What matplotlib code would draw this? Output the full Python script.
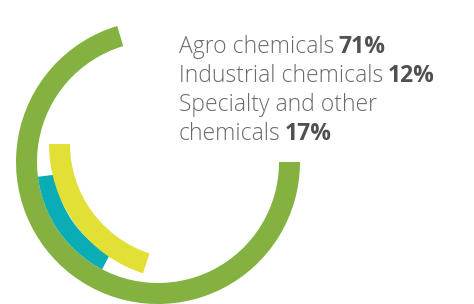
import matplotlib.pyplot as plt
from matplotlib.patches import Wedge

# segment data
labels = ['Agro chemicals', 'Industrial chemicals', 'Specialty and other\nchemicals']
shares = [71, 12, 17]
colors = ['#83b241', '#0aacb5', '#e2df35']

# arcs as drawn in the picture (degrees, counter-clockwise from east)
arc_start = [106.7, 187.0, 180.0]
arc_end = [360.0, 242.5, 252.0]
ring_center = [(158, 142), (158, 142), (185, 160)]
ring_outer = [142, 121, 136]
ring_width = [21, 17, 21]

fig = plt.figure(figsize=(4.74, 3.04), dpi=100)
ax = fig.add_axes([0, 0, 1, 1])
ax.set_xlim(0, 474)
ax.set_ylim(0, 304)
ax.set_aspect('equal')
ax.axis('off')

# green first, then teal, yellow on top
for i in [0, 1, 2]:
    w = Wedge(ring_center[i], ring_outer[i], arc_start[i], arc_end[i],
              width=ring_width[i], facecolor=colors[i], edgecolor='none')
    ax.add_patch(w)

text_color = '#6a6a6a'
lines = ['Agro chemicals', 'Industrial chemicals', 'Specialty and other', 'chemicals']
pct_line = {0: shares[0], 1: shares[1], 3: shares[2]}
y0 = 304 - 53
for k, line in enumerate(lines):
    t = ax.text(179, y0 - k * 29, line, fontsize=16.5, family='Open Sans',
                weight='light', color=text_color, va='baseline', ha='left')
    if k in pct_line:
        ax.annotate(f'{pct_line[k]}%', xy=(1, 0), xycoords=t,
                    xytext=(3, 0), textcoords='offset points',
                    fontsize=16.5, family='Open Sans', weight='bold',
                    color='#505050', va='bottom', ha='left')

fig.savefig('out.png', dpi=100)
